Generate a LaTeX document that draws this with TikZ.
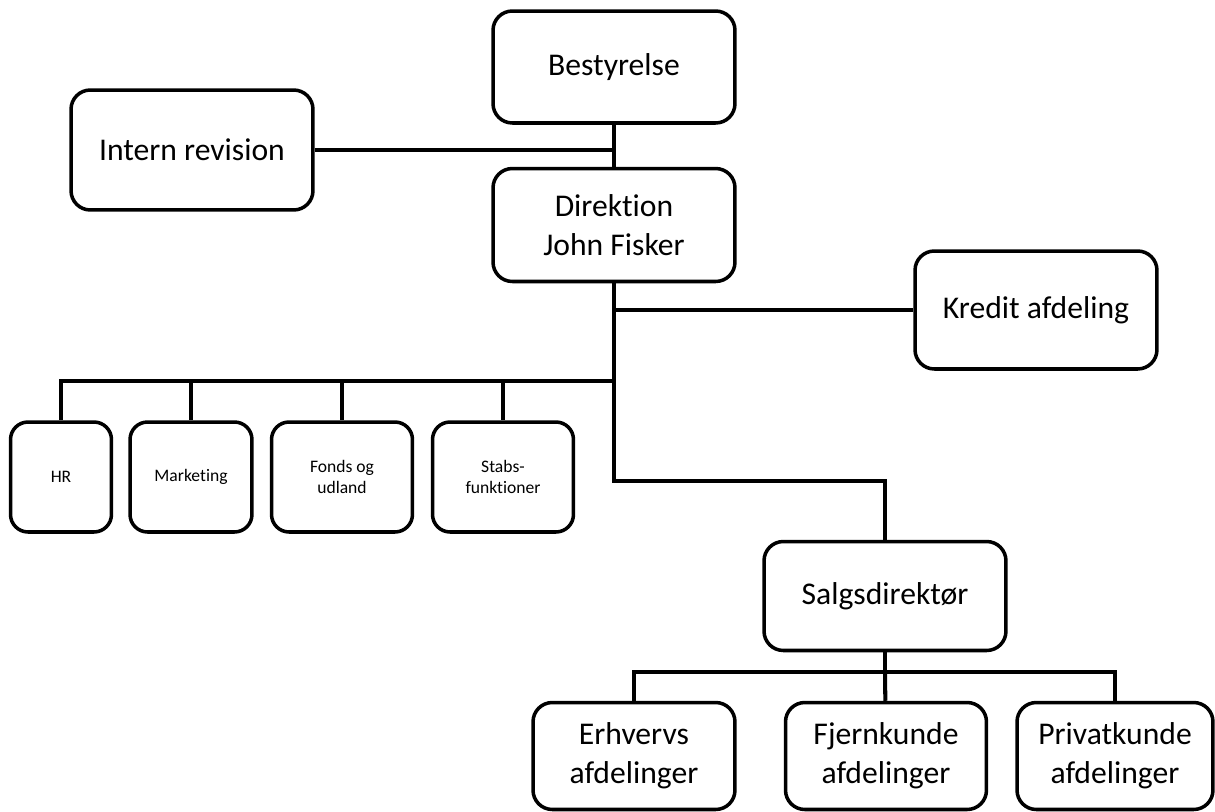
\documentclass[tikz,border=0pt]{standalone}
\usepackage{fontspec}
\setmainfont{Carlito}[RawFeature={-liga;-clig;-dlig;-calt}]
\usetikzlibrary{positioning}
\tikzset{
  every picture/.style={line width=2pt},
  box/.style={draw, rounded corners=11pt, fill=white, align=center, inner sep=2pt,
    font=\fontsize{18}{22}\selectfont},
  big/.style={box, minimum width=4.84cm},
  dept/.style={box, rounded corners=10pt, minimum height=2.2cm,
    font=\fontsize{10}{12.3}\selectfont},
  unit/.style={box, minimum height=2.14cm},
  link/.style={line width=2.3pt},
}

\begin{document}
\begin{tikzpicture}[x=0.02cm, y=-0.02cm]
  \useasboundingbox (0,0) rectangle (1215,812);
  % top of the chart
  \node[big, minimum height=2.24cm] (bestyrelse) at (614,67) {Bestyrelse};
  \node[big, minimum height=2.26cm] (direktion) at (614,225) {Direktion\\John Fisker};
  \node[big, minimum height=2.4cm] (revision) at (192,150) {Intern revision};
  \node[big, minimum height=2.36cm] (kredit) at (1036,310) {Kredit afdeling};
  % staff row
  \node[dept, minimum width=2.02cm] (hr) at (61,477) {HR};
  \node[dept, minimum width=2.44cm] (marketing) at (191,477) {Marketing};
  \node[dept, minimum width=2.82cm] (fonds) at (342,477) {Fonds og\\udland};
  \node[dept, minimum width=2.82cm] (stabs) at (503,477) {Stabs-\\funktioner};
  % sales branch
  \node[big, minimum height=2.18cm] (salg) at (885,596) {Salgsdirektør};
  \node[unit, minimum width=4.04cm] (erhverv) at (634,756) {Erhvervs\\afdelinger};
  \node[unit, minimum width=4.02cm] (fjern) at (886,756) {Fjernkunde\\afdelinger};
  \node[unit, minimum width=3.92cm] (privat) at (1115,756) {Privatkunde\\afdelinger};

  \coordinate (bus) at (614,381);
  \coordinate (knee) at (614,481);
  \coordinate (fork) at (885,672);

  \draw[link] (bestyrelse) -- (direktion);
  \draw[link] (revision) -- (revision -| direktion);
  \draw[link] (direktion) -- (knee) -| (salg);
  \draw[link] (kredit) -- (kredit -| direktion);
  \draw[link] (bus) -| (hr);
  \foreach \n in {marketing,fonds,stabs}
    \draw[link] (\n |- bus) -- (\n);
  \draw[link] (salg) -- (fork);
  \draw[link] (erhverv) |- (fork) -| (privat);
  \draw[link] (fork) -- (fjern);
\end{tikzpicture}
\end{document}
